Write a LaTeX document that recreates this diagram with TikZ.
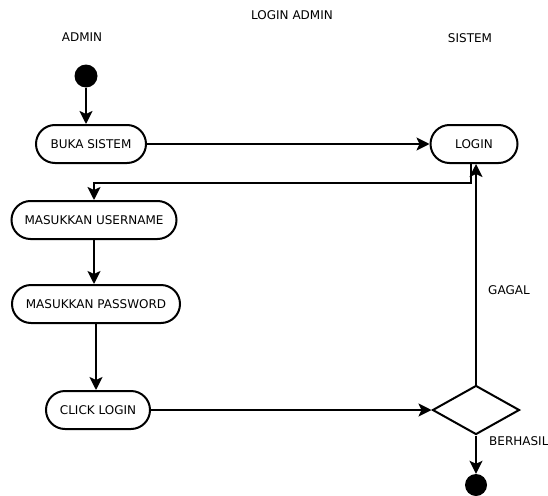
\documentclass[tikz,border=0pt]{standalone}
\usepackage{fontspec}
\setmainfont{DejaVu Sans}
\usetikzlibrary{arrows.meta,shapes.geometric}
\begin{document}
\begin{tikzpicture}[x=1pt,y=-1pt,
  act/.style={draw,line width=2pt,rounded corners=19pt,minimum height=38pt,inner sep=0pt,font=\fontsize{12}{13}\selectfont},
  lbl/.style={inner sep=0pt,font=\fontsize{12}{13}\selectfont},
  conn/.style={line width=2pt,-{Stealth[length=13pt,width=13pt,inset=3pt]}},
  dot/.style={circle,fill=black,minimum size=23pt,inner sep=0pt}]
\useasboundingbox (0,0) rectangle (548,495);
\node[lbl] (title) at (292,15) {LOGIN ADMIN};
\node[lbl] (admin) at (82,37) {ADMIN};
\node[lbl] (sistem) at (470,38) {SISTEM};
\node[dot] (start) at (86,76) {};
\node[act,minimum width=110pt] (buka) at (91,144) {BUKA SISTEM};
\node[act,minimum width=87pt] (login) at (474,144) {LOGIN};
\node[act,minimum width=165pt] (user) at (94,220) {MASUKKAN USERNAME};
\node[act,minimum width=168pt] (pass) at (96,304) {MASUKKAN PASSWORD};
\node[act,minimum width=104pt] (click) at (98,410) {CLICK LOGIN};
\node[diamond,draw,line width=2pt,minimum width=87pt,minimum height=49pt,inner sep=0pt] (dia) at (476,410) {};
\node[dot,minimum size=22pt] (end) at (476,485) {};
\node[lbl,anchor=west] (gagal) at (488,290) {GAGAL};
\node[lbl,anchor=west] (berhasil) at (489,441) {BERHASIL};
\coordinate (turn) at (471,183);
\draw[conn] (start) -- (start |- buka.north);
\draw[conn] (buka) -- (login);
\draw[conn] (turn |- login.south) -- (turn) -| (user.north);
\draw[conn] (user.south) -- (user.south |- pass.north);
\draw[conn] (pass.south) -- (pass.south |- click.north);
\draw[conn] (click) -- (dia);
\draw[conn] (dia.north) -- (dia.north |- login.south);
\draw[conn] (dia.south) -- (end);
\end{tikzpicture}
\end{document}
